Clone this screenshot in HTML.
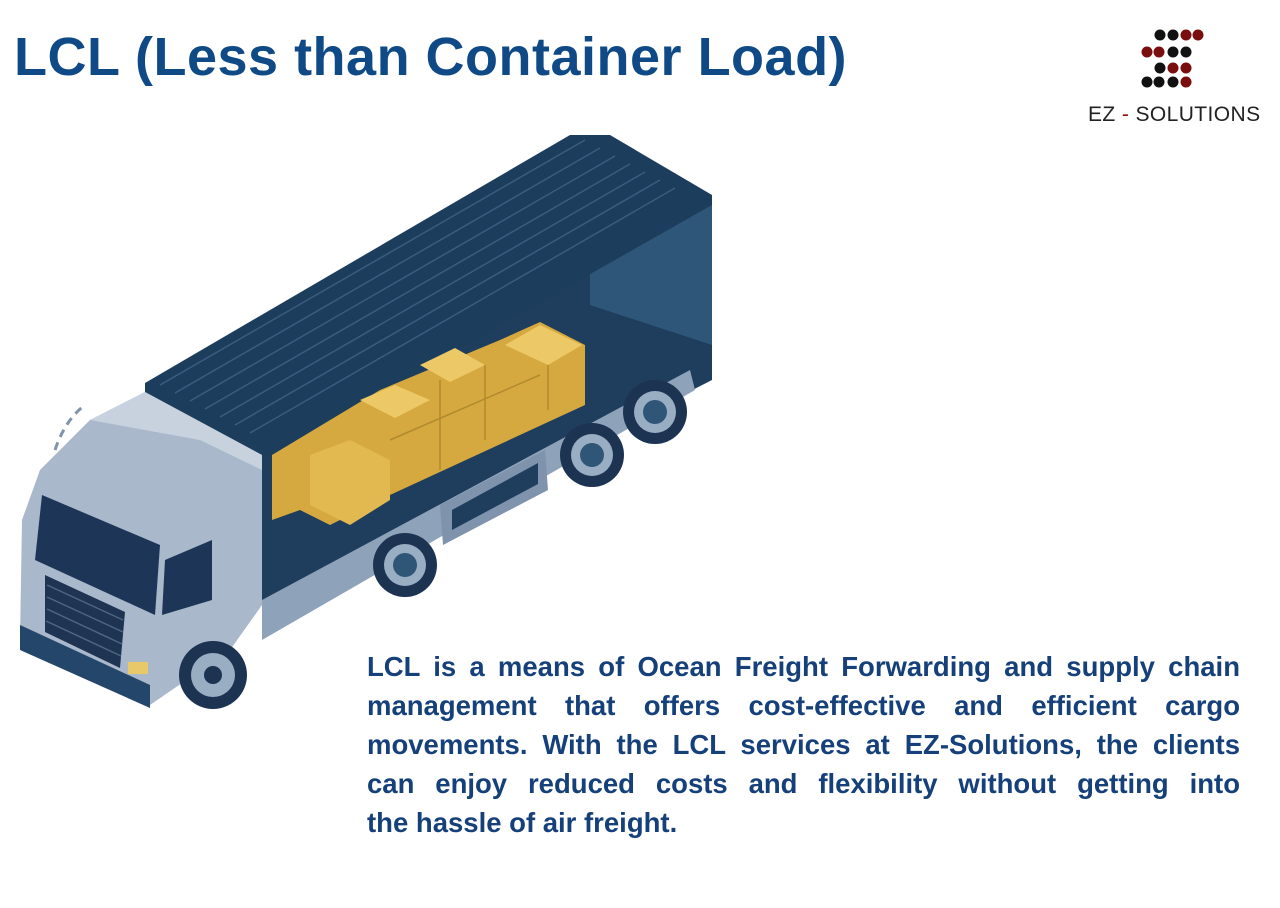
<!DOCTYPE html>
<html><head><meta charset="utf-8"><style>
html,body{margin:0;padding:0;background:#fff;}
body{width:1280px;height:908px;position:relative;overflow:hidden;font-family:"Liberation Sans",sans-serif;}
.title{position:absolute;left:14px;top:26px;font-size:54px;font-weight:bold;color:#0f4a86;white-space:nowrap;letter-spacing:0.5px;}
.body{position:absolute;left:367px;top:647px;width:873px;color:#15407a;font-weight:bold;font-size:27.5px;}
.body div{height:39px;line-height:39px;white-space:nowrap;text-align:justify;text-align-last:justify;}
.body div.last{text-align-last:left;}
.logo{position:absolute;left:1088px;top:103px;font-size:21px;letter-spacing:0.4px;color:#222;white-space:nowrap;}
.logo span{color:#8b1010;}
</style></head><body>
<div class="title">LCL (Less than Container Load)</div>
<svg width="1280" height="908" style="position:absolute;left:0;top:0">
 <g>
  <circle cx="1160" cy="35" r="5.5" fill="#111"/><circle cx="1173" cy="35" r="5.5" fill="#111"/><circle cx="1186" cy="35" r="5.5" fill="#7a0d0d"/><circle cx="1198" cy="35" r="5.5" fill="#7a0d0d"/>
  <circle cx="1147" cy="52" r="5.5" fill="#7a0d0d"/><circle cx="1159" cy="52" r="5.5" fill="#7a0d0d"/><circle cx="1173" cy="52" r="5.5" fill="#111"/><circle cx="1186" cy="52" r="5.5" fill="#111"/>
  <circle cx="1160" cy="68" r="5.5" fill="#111"/><circle cx="1173" cy="68" r="5.5" fill="#7a0d0d"/><circle cx="1186" cy="68" r="5.5" fill="#7a0d0d"/>
  <circle cx="1147" cy="82" r="5.5" fill="#111"/><circle cx="1159" cy="82" r="5.5" fill="#111"/><circle cx="1173" cy="82" r="5.5" fill="#111"/><circle cx="1186" cy="82" r="5.5" fill="#7a0d0d"/>
 </g>
 <polygon points="262,455 712,200 712,380 262,610" fill="#1f3d5c"/>
 <polygon points="590,170 712,205 712,345 590,305" fill="#2e5678"/>
 <polygon points="145,383 570,135 610,135 712,195 712,205 262,460 145,395" fill="#1d3d5c"/>
 <g stroke="#3a5d7f" stroke-width="1.5">
  <line x1="160" y1="385" x2="585" y2="140"/><line x1="175" y1="393" x2="600" y2="148"/><line x1="190" y1="401" x2="615" y2="156"/><line x1="205" y1="409" x2="630" y2="164"/><line x1="220" y1="417" x2="645" y2="172"/><line x1="235" y1="425" x2="660" y2="180"/><line x1="250" y1="433" x2="675" y2="188"/>
 </g>
 <polygon points="262,600 690,370 695,390 262,640" fill="#8ea2ba"/>
 <polygon points="440,505 545,450 548,490 443,545" fill="#7f93ad"/>
 <polygon points="452,510 538,463 538,484 452,530" fill="#1f3d5c"/>
 <polygon points="272,455 380,390 500,340 540,322 585,345 585,405 390,495 330,525 300,510 272,520" fill="#d6a940"/>
 <polygon points="310,455 350,440 390,460 390,500 350,525 310,505" fill="#e2b851"/>
 <polygon points="505,345 540,325 582,345 548,365" fill="#ecc866"/>
 <polygon points="420,365 455,348 485,365 450,382" fill="#ecc866"/>
 <polygon points="360,400 395,385 430,400 395,418" fill="#ecc866"/>
 <g stroke="#b08a2e" stroke-width="1.5" fill="none"><line x1="440" y1="380" x2="440" y2="470"/><line x1="485" y1="365" x2="485" y2="440"/><line x1="548" y1="365" x2="548" y2="410"/><line x1="390" y1="440" x2="540" y2="375"/></g>
 <polygon points="40,470 90,420 145,392 262,455 262,605 230,650 150,705 20,640 22,520" fill="#a9b8cb"/>
 <polygon points="90,420 145,392 262,455 262,470 200,440" fill="#c8d2de"/>
 <polygon points="42,495 160,545 155,615 35,560" fill="#1d3657"/>
 <polygon points="45,575 125,612 120,668 45,632" fill="#1e3452"/>
 <g stroke="#4d6684" stroke-width="1.5"><line x1="47" y1="585" x2="123" y2="620"/><line x1="47" y1="597" x2="123" y2="632"/><line x1="47" y1="609" x2="122" y2="644"/><line x1="46" y1="621" x2="121" y2="656"/></g>
 <polygon points="165,560 212,540 212,600 162,615" fill="#1d3657"/>
 <polygon points="20,625 150,685 150,708 20,650" fill="#24466b"/>
 <rect x="128" y="662" width="20" height="12" fill="#e8c96a"/>
 <g>
  <circle cx="213" cy="675" r="34" fill="#1d3352"/><circle cx="213" cy="675" r="22" fill="#9aaec3"/><circle cx="213" cy="675" r="9" fill="#1d3352"/>
  <circle cx="405" cy="565" r="32" fill="#1d3352"/><circle cx="405" cy="565" r="21" fill="#9aaec3"/><circle cx="405" cy="565" r="12" fill="#2f5577"/>
  <circle cx="592" cy="455" r="32" fill="#1d3352"/><circle cx="592" cy="455" r="21" fill="#9aaec3"/><circle cx="592" cy="455" r="12" fill="#2f5577"/>
  <circle cx="655" cy="412" r="32" fill="#1d3352"/><circle cx="655" cy="412" r="21" fill="#9aaec3"/><circle cx="655" cy="412" r="12" fill="#2f5577"/>
 </g>
 <path d="M55,450 Q65,420 85,405" stroke="#7f93ad" stroke-width="3" fill="none" stroke-dasharray="8,6"/>
</svg>
<div class="logo">EZ <span>-</span> SOLUTIONS</div>
<div class="body">
<div>LCL is a means of Ocean Freight Forwarding and supply chain</div>
<div>management that offers cost-effective and efficient cargo</div>
<div>movements. With the LCL services at EZ-Solutions, the clients</div>
<div>can enjoy reduced costs and flexibility without getting into</div>
<div class="last">the hassle of air freight.</div>
</div>
</body></html>
